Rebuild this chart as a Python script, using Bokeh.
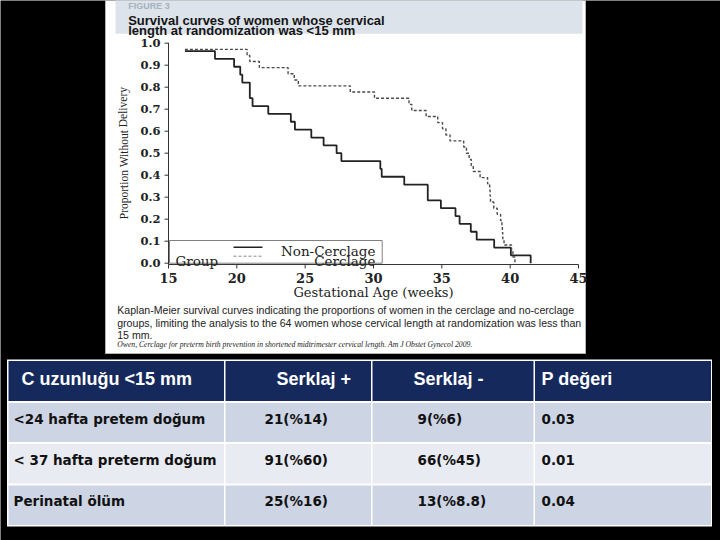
from bokeh.plotting import figure
from bokeh.models import Range1d
from bokeh.core.properties import value
from bokeh.embed import file_html
from bokeh.resources import INLINE
import math

# ---------------- data ----------------
nc_weeks = [16.2, 18.4, 19.8, 20.25, 20.4, 20.95, 21.15, 22.3, 23.95, 24.25, 25.45,
            26.35, 27.3, 27.65, 30.5, 30.6, 32.25, 33.97, 34.93, 36.0, 36.3, 37.12,
            37.55, 38.83, 40.05, 41.5]
nc_surv = [0.964, 0.929, 0.893, 0.857, 0.821, 0.75, 0.714, 0.679, 0.643, 0.607, 0.571,
           0.536, 0.5, 0.464, 0.429, 0.393, 0.357, 0.286, 0.25, 0.214, 0.179, 0.143,
           0.107, 0.071, 0.036, 0.0]
c_weeks = [16.2, 20.75, 20.95, 21.65, 23.75, 24.2, 24.5, 28.3, 30.07, 32.6, 32.8, 33.85,
           34.7, 35.05, 35.3, 35.6, 36.6, 36.8, 37.0, 37.15, 37.3, 37.8, 38.35, 38.5,
           38.53, 38.56, 38.8, 39.05, 39.3, 39.4, 39.43, 39.46, 39.55, 40.1, 40.2, 40.35]
c_surv = [0.972, 0.944, 0.917, 0.889, 0.861, 0.833, 0.806, 0.778, 0.75, 0.722, 0.694, 0.667,
          0.639, 0.611, 0.583, 0.556, 0.528, 0.5, 0.472, 0.444, 0.417, 0.389, 0.361, 0.333,
          0.306, 0.278, 0.25, 0.222, 0.194, 0.167, 0.139, 0.111, 0.083, 0.056, 0.028, 0.0]
x_ticks = [15, 20, 25, 30, 35, 40, 45]
y_ticks = [0.0, 0.1, 0.2, 0.3, 0.4, 0.5, 0.6, 0.7, 0.8, 0.9, 1.0]
x_label = "Gestational Age (weeks)"
y_label = "Proportion Without Delivery"
legend_title = "Group"
group_names = ["Non-Cerclage", "Cerclage"]

fig_label = "FIGURE 3"
title_lines = ["Survival curves of women whose cervical",
               "length at randomization was <15 mm"]
caption_lines = ["Kaplan-Meier survival curves indicating the proportions of women in the cerclage and no-cerclage",
                 "groups, limiting the analysis to the 64 women whose cervical length at randomization was less than",
                 "15 mm."]
citation = "Owen, Cerclage for preterm birth prevention in shortened midtrimester cervical length. Am J Obstet Gynecol 2009."

tbl_header = ["C uzunluğu <15 mm", "Serklaj +", "Serklaj -", "P değeri"]
tbl_rows = ["<24 hafta pretem doğum", "< 37 hafta preterm doğum", "Perinatal ölüm"]
tbl_pos = ["21(%14)", "91(%60)", "25(%16)"]
tbl_neg = ["9(%6)", "66(%45)", "13(%8.8)"]
tbl_p = ["0.03", "0.01", "0.04"]

# ---------------- page geometry (pixels) ----------------
W, H = 720, 540
X15_PX, X45_PX = 168.0, 578.0      # where weeks 15 and 45 sit
Y0_PX, Y1_PX = 262.7, 42.7         # where proportions 0 and 1 sit
AX_BASE = -0.006                   # x-axis line just below 0
wk_per_px = 30.0 / (X45_PX - X15_PX)
pr_per_px = 1.0 / (Y0_PX - Y1_PX)

p = figure(width=W, height=H, x_range=Range1d(0, W), y_range=Range1d(H, 0),
           x_axis_type=None, y_axis_type=None, min_border=0,
           toolbar_location=None, output_backend="svg",
           background_fill_color="black", border_fill_color="black")
p.outline_line_color = None
p.grid.visible = False
p.extra_x_ranges = {"wk": Range1d(15 - X15_PX * wk_per_px, 15 + (W - X15_PX) * wk_per_px)}
p.extra_y_ranges = {"pr": Range1d((Y0_PX - H) * pr_per_px, Y0_PX * pr_per_px)}

SERIF = value("DejaVu Serif")
SANS = value("Liberation Sans")

# ---------------- figure panel ----------------
p.quad(left=[105], right=[585], top=[0], bottom=[353], fill_color="white",
       line_color="#b5b5b5", line_width=1)
p.quad(left=[115], right=[582], top=[-2], bottom=[33.3], fill_color="#dde3ea", line_color=None)
p.text(x=[127.7], y=[5.6], text=[fig_label], text_font=SANS, text_font_size="9px",
       text_font_style="bold", text_color="#a3b1c0", text_baseline="alphabetic")
p.text(x=[127.7, 127.7], y=[19.5, 30.0], text=title_lines, text_font=SANS,
       text_font_size="13px", text_font_style="bold", text_color="#141414",
       text_baseline="alphabetic")

# ---------------- survival chart ----------------
# axis lines
p.line(x=[15, 45], y=[AX_BASE, AX_BASE], x_range_name="wk", y_range_name="pr",
       line_color="#333333", line_width=1)
p.line(x=[15, 15], y=[AX_BASE, 1.002], x_range_name="wk", y_range_name="pr",
       line_color="#333333", line_width=1)
# ticks
p.segment(x0=x_ticks, x1=x_ticks, y0=[264] * len(x_ticks), y1=[268] * len(x_ticks),
          x_range_name="wk", line_color="#333333", line_width=1)
p.segment(x0=[164] * len(y_ticks), x1=[168] * len(y_ticks), y0=y_ticks, y1=y_ticks,
          y_range_name="pr", line_color="#333333", line_width=1)
# tick labels
p.text(x=x_ticks, y=[277.5] * len(x_ticks), text=[str(t) for t in x_ticks], x_range_name="wk",
       text_font=SERIF, text_font_style="bold", text_font_size="13px", text_color="#222222",
       text_align="center", text_baseline="alphabetic")
p.text(x=[160] * len(y_ticks), y=y_ticks, text=["%.1f" % t for t in y_ticks], y_range_name="pr",
       text_font=SERIF, text_font_style="bold", text_font_size="11.5px", text_color="#222222",
       text_align="right", text_baseline="middle")
# axis titles
p.text(x=[373], y=[292], text=[x_label], text_font=SERIF, text_font_size="13px",
       text_color="#222222", text_align="center", text_baseline="alphabetic")
p.text(x=[123], y=[152.5], text=[y_label], angle=[math.pi / 2], text_font=value("Liberation Serif"),
       text_font_size="11.5px", text_color="#222222", text_align="center", text_baseline="middle")

# curves
p.step(x=nc_weeks, y=nc_surv, mode="after", x_range_name="wk", y_range_name="pr",
       line_color="#222222", line_width=1.8)
p.step(x=c_weeks, y=c_surv, mode="after", x_range_name="wk", y_range_name="pr",
       line_color="#4a4a4a", line_width=1.4, line_dash="3 2")

# legend box
p.quad(left=[169], right=[381.7], top=[240], bottom=[262.7], fill_color="white",
       line_color="#808080", line_width=1)
p.text(x=[175], y=[260], text=[legend_title], text_font=SERIF, text_font_size="13.5px",
       text_color="#222222", text_baseline="alphabetic")
p.line(x=[233, 262], y=[246.7, 246.7], line_color="#222222", line_width=1.6)
p.line(x=[233, 262], y=[255.7, 255.7], line_color="#8a8a8a", line_width=1, line_dash="3 2")
p.text(x=[375, 375], y=[250, 260], text=group_names, text_font=SERIF, text_font_size="13.5px",
       text_color="#222222", text_align="right", text_baseline="alphabetic")

# caption
p.text(x=[116.7] * 3, y=[309.3, 322.2, 334.0], text=caption_lines, text_font=SANS,
       text_font_size="10.6px", text_color="#222222", text_baseline="alphabetic")
p.text(x=[116.7], y=[343.5], text=[citation], text_font=value("Liberation Serif"),
       text_font_size="7.7px", text_font_style="italic", text_color="#222222",
       text_baseline="alphabetic")

# ---------------- table ----------------
col_l = [8.0, 225.0, 372.0, 534.5]
col_r = [223.5, 370.5, 533.0, 710.5]
row_t = [360.5, 402.5, 443.5, 485.0]
row_b = [400.5, 441.5, 483.0, 524.5]
row_fill = ["#16295c", "#cdd4e4", "#e8ebf2", "#cdd4e4"]

p.quad(left=[6.5], right=[711.5], top=[359.0], bottom=[526.0], fill_color="white", line_color=None)
L, R, T, B, F = [], [], [], [], []
for r in range(1 + len(tbl_rows)):
    for c in range(len(tbl_header)):
        L.append(col_l[c]); R.append(col_r[c]); T.append(row_t[r]); B.append(row_b[r])
        F.append(row_fill[r])
p.quad(left=L, right=R, top=T, bottom=B, fill_color=F, line_color=None)

head_x = [21, 276, 413, 541]
p.text(x=head_x, y=[378] * 4, text=tbl_header, text_font=SANS, text_font_size="18px",
       text_font_style="bold", text_color="white", text_baseline="middle")
body_x = [13, 264, 417, 541]
body_y = [418.5, 459.0, 500.0]
columns = [tbl_rows, tbl_pos, tbl_neg, tbl_p]
bx, by, bt = [], [], []
for c, col in enumerate(columns):
    for r, txt in enumerate(col):
        bx.append(body_x[c]); by.append(body_y[r]); bt.append(txt)
p.text(x=bx, y=by, text=bt, text_font=value("DejaVu Sans"), text_font_size="13.5px",
       text_font_style="bold", text_color="#111111", text_baseline="middle")

open("out.html", "w").write(file_html(p, INLINE))
